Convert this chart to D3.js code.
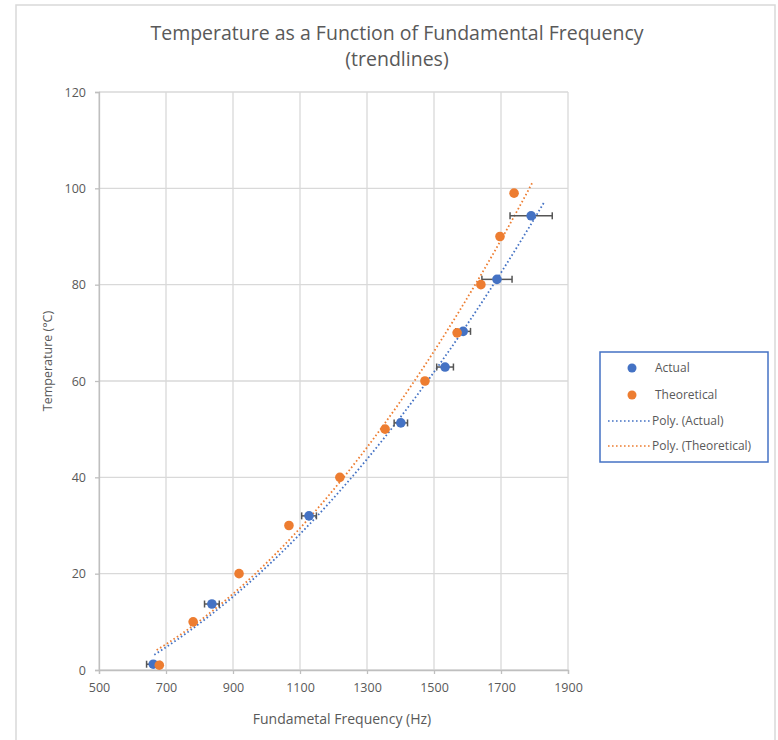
<!DOCTYPE html>
<html><head><meta charset="utf-8">
<script src="https://cdn.jsdelivr.net/npm/d3@7"></script>
<style>body{margin:0;background:#fff;} svg{display:block;}</style>
</head><body>
<svg id="c" width="778" height="740"></svg>
<script>
// ---- data ----
const actualFreq = [662, 837, 1127, 1401, 1533, 1587, 1688, 1790];
const actualTemp = [1.2, 13.7, 32.0, 51.3, 62.9, 70.3, 81.1, 94.3];
const actualErr  = [20, 22, 22, 20, 25, 22, 45, 63];
const theoFreq = [680, 781, 918, 1067, 1219, 1354, 1473, 1569, 1640, 1697, 1739];
const theoTemp = [1, 10, 20, 30, 40, 50, 60, 70, 80, 90, 99];
const trendRangeActual = [665, 1830];
const trendRangeTheo = [672, 1796];
const xTicks = [500, 700, 900, 1100, 1300, 1500, 1700, 1900];
const yTicks = [0, 20, 40, 60, 80, 100, 120];
const legendLabels = ["Actual", "Theoretical", "Poly. (Actual)", "Poly. (Theoretical)"];

const BLUE = "#4472C4", ORANGE = "#ED7D31", TXT = "#595959", GRID = "#d9d9d9";
const FONT = "'Open Sans', Lato, sans-serif";

const svg = d3.select("#c");
svg.append("rect").attr("x", 16).attr("y", 5).attr("width", 759).attr("height", 760)
  .attr("fill", "#fff").attr("stroke", "#d9d9d9").attr("stroke-width", 1.5);

const x = d3.scaleLinear().domain([500, 1900]).range([99, 568]);
const y = d3.scaleLinear().domain([0, 120]).range([670, 92]);

// gridlines
svg.append("g").selectAll("line.v").data(xTicks).join("line")
  .attr("x1", d => x(d)).attr("x2", d => x(d)).attr("y1", y(120)).attr("y2", y(0))
  .attr("stroke", GRID).attr("stroke-width", 1.3);
svg.append("g").selectAll("line.h").data(yTicks).join("line")
  .attr("x1", x(500)).attr("x2", x(1900)).attr("y1", d => y(d)).attr("y2", d => y(d))
  .attr("stroke", GRID).attr("stroke-width", 1.3);

// axes
const xAxis = svg.append("g").attr("transform", `translate(0,${y(0)})`)
  .call(d3.axisBottom(x).tickValues(xTicks).tickFormat(d3.format("d")).tickSize(4).tickPadding(9));
const yAxis = svg.append("g").attr("transform", `translate(${x(500)},0)`)
  .call(d3.axisLeft(y).tickValues(yTicks).tickFormat(d3.format("d")).tickSize(4).tickPadding(9));
[xAxis, yAxis].forEach(a => {
  a.select(".domain").attr("stroke", "#bfbfbf").attr("stroke-width", 1.3);
  a.selectAll(".tick line").attr("stroke", "#bfbfbf").attr("stroke-width", 1.3);
  a.selectAll("text").attr("fill", TXT).attr("font-family", FONT).attr("font-size", 12.5);
});

// polynomial (order 2) least-squares trendline
function polyFit(xs, ys) {
  const n = xs.length;
  let s = [0,0,0,0,0], t = [0,0,0];
  for (let i = 0; i < n; i++) {
    const xv = xs[i];
    for (let k = 0; k < 5; k++) s[k] += Math.pow(xv, k);
    for (let k = 0; k < 3; k++) t[k] += ys[i] * Math.pow(xv, k);
  }
  const A = [[s[0], s[1], s[2], t[0]], [s[1], s[2], s[3], t[1]], [s[2], s[3], s[4], t[2]]];
  for (let i = 0; i < 3; i++) {
    let p = i; for (let r = i + 1; r < 3; r++) if (Math.abs(A[r][i]) > Math.abs(A[p][i])) p = r;
    [A[i], A[p]] = [A[p], A[i]];
    for (let r = 0; r < 3; r++) if (r !== i) {
      const f = A[r][i] / A[i][i];
      for (let c = i; c < 4; c++) A[r][c] -= f * A[i][c];
    }
  }
  const c = [A[0][3] / A[0][0], A[1][3] / A[1][1], A[2][3] / A[2][2]];
  return v => c[0] + c[1] * v + c[2] * v * v;
}
const line = d3.line().x(d => x(d[0])).y(d => y(d[1]));
function trend(xs, ys, range, color) {
  const f = polyFit(xs, ys);
  const pts = d3.range(0, 101).map(i => { const v = range[0] + (range[1] - range[0]) * i / 100; return [v, f(v)]; });
  svg.append("path").attr("d", line(pts)).attr("fill", "none").attr("stroke", color)
    .attr("stroke-width", 1.8).attr("stroke-dasharray", "1.6,2.4");
}
trend(actualFreq, actualTemp, trendRangeActual, BLUE);
trend(theoFreq, theoTemp, trendRangeTheo, ORANGE);

// error bars for Actual
const eb = svg.append("g").attr("stroke", "#555").attr("stroke-width", 1.5);
actualFreq.forEach((f, i) => {
  const yy = y(actualTemp[i]), x1 = x(f - actualErr[i]), x2 = x(f + actualErr[i]);
  eb.append("line").attr("x1", x1).attr("x2", x2).attr("y1", yy).attr("y2", yy);
  eb.append("line").attr("x1", x1).attr("x2", x1).attr("y1", yy - 3.5).attr("y2", yy + 3.5);
  eb.append("line").attr("x1", x2).attr("x2", x2).attr("y1", yy - 3.5).attr("y2", yy + 3.5);
});

// markers
svg.append("g").selectAll("circle").data(actualFreq).join("circle")
  .attr("cx", d => x(d)).attr("cy", (d, i) => y(actualTemp[i])).attr("r", 4.8).attr("fill", BLUE);
svg.append("g").selectAll("circle").data(theoFreq).join("circle")
  .attr("cx", d => x(d)).attr("cy", (d, i) => y(theoTemp[i])).attr("r", 4.8).attr("fill", ORANGE);

// title
svg.append("text").attr("x", 397).attr("y", 40).attr("text-anchor", "middle")
  .attr("font-family", FONT).attr("font-size", 19.5).attr("fill", TXT)
  .text("Temperature as a Function of Fundamental Frequency");
svg.append("text").attr("x", 397).attr("y", 66).attr("text-anchor", "middle")
  .attr("font-family", FONT).attr("font-size", 19.5).attr("fill", TXT).text("(trendlines)");

// axis titles
svg.append("text").attr("x", 342).attr("y", 724).attr("text-anchor", "middle")
  .attr("font-family", FONT).attr("font-size", 14).attr("fill", TXT).text("Fundametal Frequency (Hz)");
svg.append("text").attr("transform", "translate(52,361) rotate(-90)").attr("text-anchor", "middle")
  .attr("font-family", FONT).attr("font-size", 12.5).attr("fill", TXT).text("Temperature (°C)");

// legend
const lg = svg.append("g");
lg.append("rect").attr("x", 600).attr("y", 352).attr("width", 168).attr("height", 110)
  .attr("fill", "#fff").attr("stroke", BLUE).attr("stroke-width", 1.5);
const rows = [368, 395, 421, 446];
legendLabels.forEach((lab, i) => {
  const ry = rows[i];
  if (i < 2) {
    lg.append("circle").attr("cx", 632).attr("cy", ry).attr("r", 4.5).attr("fill", i === 0 ? BLUE : ORANGE);
  } else {
    lg.append("line").attr("x1", 608).attr("x2", 651).attr("y1", ry).attr("y2", ry)
      .attr("stroke", i === 2 ? BLUE : ORANGE).attr("stroke-width", 1.5).attr("stroke-dasharray", "1.6,2.4");
  }
  lg.append("text").attr("x", i < 2 ? 655 : 652).attr("y", ry + 4)
    .attr("font-family", FONT).attr("font-size", 12).attr("fill", TXT).text(lab);
});
</script>
</body></html>
